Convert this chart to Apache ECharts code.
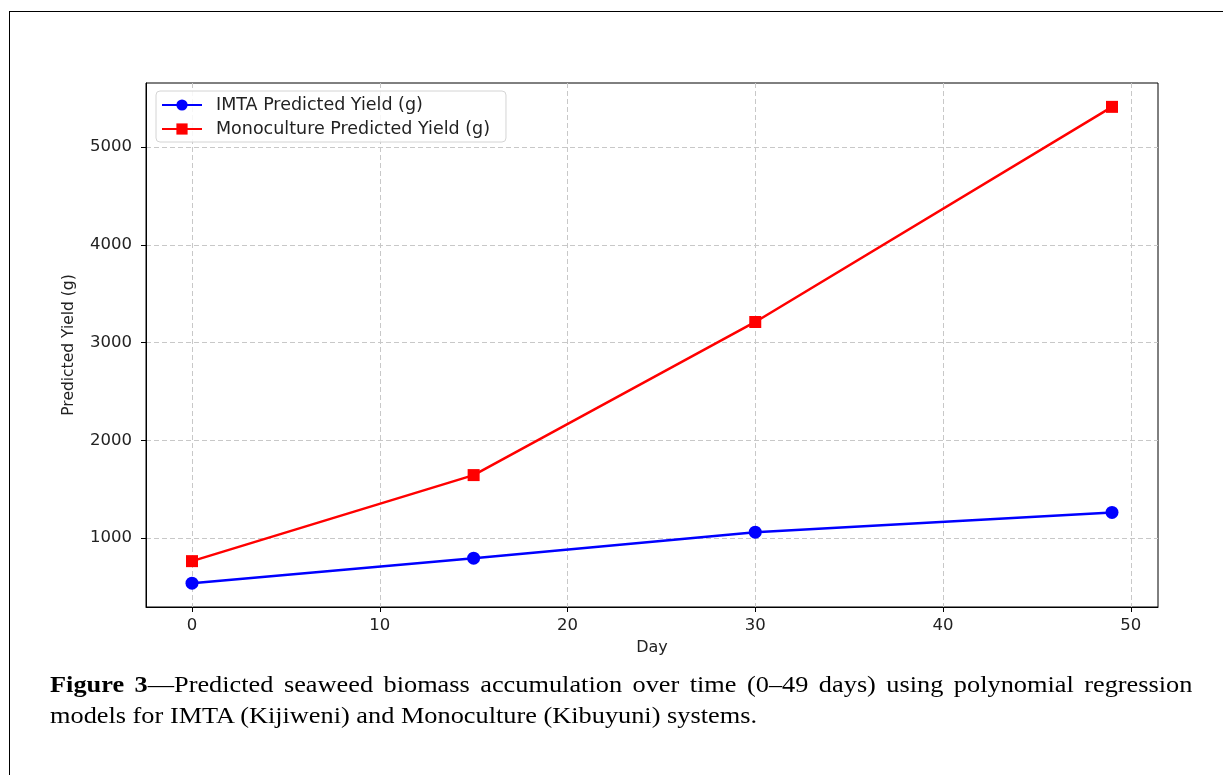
<!DOCTYPE html>
<html>
<head>
<meta charset="utf-8">
<script src="https://cdn.jsdelivr.net/npm/echarts@6/dist/echarts.min.js"></script>
<style>
html, body { margin: 0; padding: 0; background: #fff; }
.page { position: relative; width: 1223px; height: 775px; overflow: hidden; }
.frame { position: absolute; left: 9px; top: 11px; right: -10px; bottom: -10px;
         border-left: 1.5px solid #000; border-top: 1.5px solid #000; }
#chart { position: absolute; left: 0; top: 0; width: 1223px; height: 775px; }
.caption { position: absolute; left: 50px; top: 669px; width: 1020px;
           transform: scaleX(1.12); transform-origin: 0 0;
           font-family: "Liberation Serif", "Times New Roman", serif;
           font-size: 23.5px; line-height: 31px; color: #000; }
.caption .l1 { text-align: justify; text-align-last: justify; white-space: nowrap; }
</style>
</head>
<body>
<div class="page">
    <div class="frame"></div>
    <div id="chart"></div>
    <div class="caption">
        <div class="l1"><b>Figure 3</b>—Predicted seaweed biomass accumulation over time (0–49 days) using polynomial regression</div>
        <div>models for IMTA (Kijiweni) and Monoculture (Kibuyuni) systems.</div>
    </div>
</div>
<script>
    // data
    const days = [0, 15, 30, 49]
    const imtaYield = [540, 795, 1061, 1263]
    const monoYield = [765, 1645, 3211, 5411]
    const xTicks = [0, 10, 20, 30, 40, 50]
    const yTicks = [1000, 2000, 3000, 4000, 5000]

    const font = 'DejaVu Sans'
    const gridLine = { show: true, lineStyle: { color: '#c8c8c8', type: [5, 3], width: 1 } }

    const chart = echarts.init(document.getElementById('chart'))
    chart.setOption({
        animation: false,
        grid: {
            left: 146, right: 65, top: 83, bottom: 168,
            show: true, borderColor: '#000', borderWidth: 1
        },
        legend: {
            orient: 'vertical',
            left: 156, top: 91,
            padding: [5, 16, 4, 5],
            itemGap: 6,
            itemWidth: 40,
            itemHeight: 14,
            backgroundColor: 'rgba(255,255,255,0.85)',
            borderColor: '#d4d4d4',
            borderWidth: 1,
            borderRadius: 4,
            textStyle: { fontFamily: font, fontSize: 17.5, color: '#222', lineHeight: 16, padding: [0, 0, 0, 9] }
        },
        xAxis: {
            type: 'value',
            min: -2.45, max: 51.45,
            name: 'Day',
            nameLocation: 'middle',
            nameGap: 33,
            nameTextStyle: { fontFamily: font, fontSize: 16, color: '#222' },
            axisLine: { show: true, onZero: false, lineStyle: { color: '#000', width: 1 } },
            axisTick: { show: true, length: 5, customValues: xTicks, lineStyle: { color: '#000' } },
            axisLabel: { customValues: xTicks, margin: 10, fontFamily: font, fontSize: 16.5, color: '#222' },
            splitLine: gridLine
        },
        yAxis: {
            type: 'value',
            min: 296, max: 5655,
            name: 'Predicted Yield (g)',
            nameLocation: 'middle',
            nameGap: 69,
            nameRotate: 90,
            nameTextStyle: { fontFamily: font, fontSize: 15.5, color: '#222' },
            axisLine: { show: true, onZero: false, lineStyle: { color: '#000', width: 1 } },
            axisTick: { show: true, length: 5, customValues: yTicks, lineStyle: { color: '#000' } },
            axisLabel: { customValues: yTicks, margin: 14, fontFamily: font, fontSize: 16.5, color: '#222',
                         formatter: v => String(v) },
            splitLine: gridLine
        },
        series: [
            {
                name: 'IMTA Predicted Yield (g)',
                type: 'line',
                data: days.map((d, i) => [d, imtaYield[i]]),
                symbol: 'circle',
                symbolSize: 13,
                lineStyle: { color: '#0000ff', width: 2.5 },
                itemStyle: { color: '#0000ff' }
            },
            {
                name: 'Monoculture Predicted Yield (g)',
                type: 'line',
                data: days.map((d, i) => [d, monoYield[i]]),
                symbol: 'rect',
                symbolSize: 12,
                lineStyle: { color: '#ff0000', width: 2.5 },
                itemStyle: { color: '#ff0000' }
            }
        ]
    })
</script>
</body>
</html>
